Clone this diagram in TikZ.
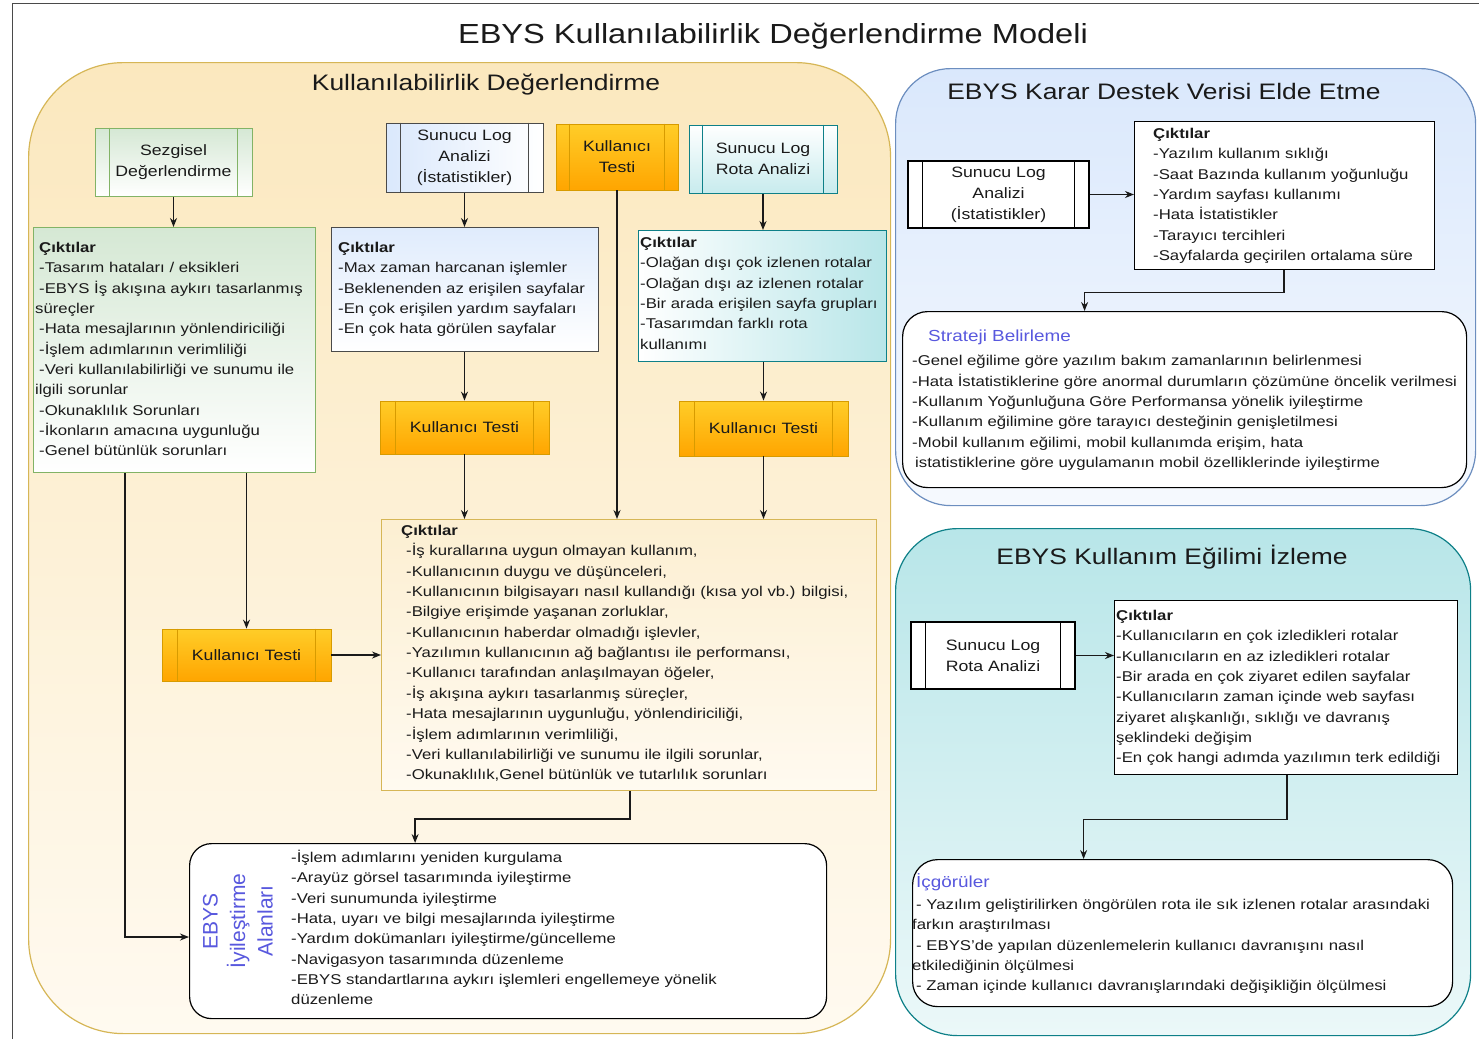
\documentclass[tikz,border=0pt]{standalone}
\usepackage{fontspec}
\setmainfont{Liberation Sans}[FakeStretch=1.18]
\newfontfamily\plainsans{Liberation Sans}
\usetikzlibrary{arrows.meta}

\definecolor{ink}{HTML}{1A1A1A}
\definecolor{violet}{RGB}{88,88,222}
\definecolor{ylwfill}{HTML}{FBE8BE}
\definecolor{ylwlight}{HTML}{FFFAF0}
\definecolor{ylwstroke}{HTML}{D6B656}
\definecolor{grnfill}{HTML}{D5E8D4}
\definecolor{grnstroke}{HTML}{82B366}
\definecolor{blufill}{HTML}{DAE8FC}
\definecolor{blustroke}{HTML}{6C8EBF}
\definecolor{darkstroke}{HTML}{4A4A4A}
\definecolor{tealfill}{HTML}{B0E3E6}
\definecolor{tealstroke}{HTML}{0E8088}
\definecolor{orgtop}{HTML}{FFCD28}
\definecolor{orgbot}{HTML}{FFA500}
\definecolor{orgstroke}{HTML}{D79B00}

% inner side bars of a "process" box
\newcommand{\procbars}[3]{%
  \draw[#3, line width=0.9pt] ([xshift=#2]#1.north west) -- ([xshift=#2]#1.south west);
  \draw[#3, line width=0.9pt] ([xshift=-#2]#1.north east) -- ([xshift=-#2]#1.south east);}
\newcommand{\ind}{\hspace*{4pt}}

\begin{document}
\begin{tikzpicture}[x=1pt,y=-1pt,
  every node/.style={text=ink, inner sep=0pt},
  bodytext/.style={font=\fontsize{14.2}{20.35}\selectfont, align=left, anchor=north west},
  boxlabel/.style={font=\fontsize{15}{21}\selectfont, align=center},
  heading/.style={font=\fontsize{16}{20}\selectfont, text=violet, anchor=north west},
  areatitle/.style={font=\fontsize{22.4}{26}\selectfont},
  greenbox/.style={draw=grnstroke, line width=1pt, top color=grnfill, bottom color=white},
  bluebox/.style={draw=darkstroke, line width=1pt, left color=blufill, right color=white},
  blueout/.style={draw=darkstroke, line width=1pt, top color=blufill!85, bottom color=white},
  tealbox/.style={draw=tealstroke, line width=1pt, top color=white, bottom color=tealfill!70},
  tealout/.style={draw=tealstroke, line width=1pt, left color=white, right color=tealfill!90},
  orangebox/.style={draw=orgstroke, line width=0.8pt, top color=orgtop, bottom color=orgbot},
  yellowout/.style={draw=ylwstroke, line width=1pt, top color=ylwfill!70, bottom color=ylwlight},
  plainbox/.style={draw=black, line width=1.2pt, fill=white},
  flow/.style={draw=ink, line width=1.3pt, -{Stealth[length=9pt,width=7pt]}}
]
\useasboundingbox (0,0) rectangle (1479,1039);

% outer frame
\draw[line width=1pt, darkstroke] (12,1039) -- (12,3) -- (1479,3);

\node[font=\fontsize{27.6}{32}\selectfont] (title) at (773,36) {EBYS Kullanılabilirlik Değerlendirme Modeli};

% ---------------- three areas ----------------
\node[draw=ylwstroke, line width=1.2pt, top color=ylwfill, bottom color=ylwlight,
      rounded corners=95pt, minimum width=862pt, minimum height=971pt, anchor=north west] (kdarea) at (28,62) {};
\node[areatitle] (kdtitle) at (486,85) {Kullanılabilirlik Değerlendirme};

\node[draw=blustroke, line width=1.2pt, top color=blufill, bottom color=blufill!25,
      rounded corners=55pt, minimum width=580pt, minimum height=437pt, anchor=north west] (kdvarea) at (895,68) {};
\node[areatitle] (kdvtitle) at (1164,91) {EBYS Karar Destek Verisi Elde Etme};

\node[draw=tealstroke, line width=1.2pt, top color=tealfill!90, bottom color=tealfill!25,
      rounded corners=62pt, minimum width=575pt, minimum height=507pt, anchor=north west] (kearea) at (895,528) {};
\node[areatitle] (ketitle) at (1172,557) {EBYS Kullanım Eğilimi İzleme};

% ---------------- method boxes ----------------
\node[greenbox, boxlabel, minimum width=157pt, minimum height=68pt] (sez) at (173.5,162) {Sezgisel\\Değerlendirme};
\procbars{sez}{15pt}{grnstroke}
\node[bluebox, boxlabel, minimum width=157pt, minimum height=69pt] (sla) at (464.5,157.5) {Sunucu Log\\Analizi\\(İstatistikler)};
\procbars{sla}{15pt}{darkstroke}
\node[orangebox, boxlabel, minimum width=122pt, minimum height=66pt] (kt1) at (617,157) {Kullanıcı\\Testi};
\procbars{kt1}{14pt}{orgstroke}
\node[tealbox, boxlabel, minimum width=148pt, minimum height=68pt] (slra) at (763,159) {Sunucu Log\\Rota Analizi};
\procbars{slra}{14pt}{tealstroke}

% ---------------- first outputs ----------------
\node[greenbox, minimum width=282pt, minimum height=245pt, anchor=north west] (gout) at (33,227) {};
\node[bodytext] (gout-t) at (35,242) {\ind\textbf{Çıktılar}\\
\ind-Tasarım hataları /  eksikleri\\
\ind-EBYS İş akışına aykırı tasarlanmış\\
süreçler\\
\ind-Hata mesajlarının yönlendiriciliği\\
\ind-İşlem adımlarının verimliliği\\
\ind-Veri kullanılabilirliği ve sunumu ile\\
ilgili sorunlar\\
\ind-Okunaklılık Sorunları\\
\ind-İkonların amacına uygunluğu\\
\ind-Genel bütünlük sorunları};

\node[blueout, minimum width=267pt, minimum height=124pt, anchor=north west] (bout) at (331,227) {};
\node[bodytext] (bout-t) at (338,242) {\textbf{Çıktılar}\\
-Max zaman harcanan işlemler\\
-Beklenenden az erişilen sayfalar\\
-En çok erişilen yardım sayfaları\\
-En çok hata görülen sayfalar};

\node[tealout, minimum width=248pt, minimum height=131pt, anchor=north west] (tout) at (638,230) {};
\node[bodytext] (tout-t) at (640,237) {\textbf{Çıktılar}\\
-Olağan dışı çok izlenen rotalar\\
-Olağan dışı az izlenen rotalar\\
-Bir arada erişilen sayfa grupları\\
-Tasarımdan farklı rota\\
kullanımı};

% ---------------- user tests ----------------
\node[orangebox, boxlabel, minimum width=169pt, minimum height=53pt] (kt2) at (464.5,427.5) {Kullanıcı Testi};
\procbars{kt2}{16pt}{orgstroke}
\node[orangebox, boxlabel, minimum width=169pt, minimum height=55pt] (kt3) at (763.5,428.5) {Kullanıcı Testi};
\procbars{kt3}{16pt}{orgstroke}
\node[orangebox, boxlabel, minimum width=169pt, minimum height=52pt] (kt4) at (246.5,655) {Kullanıcı Testi};
\procbars{kt4}{16pt}{orgstroke}

% ---------------- combined outputs ----------------
\node[yellowout, minimum width=495pt, minimum height=271pt, anchor=north west] (cout) at (381,519) {};
\node[bodytext] (cout-t) at (401,525) {\textbf{Çıktılar}\\
\hspace*{5pt}-İş kurallarına uygun olmayan kullanım,\\
\hspace*{5pt}-Kullanıcının duygu ve düşünceleri,\\
\hspace*{5pt}-Kullanıcının bilgisayarı nasıl kullandığı (kısa yol vb.) bilgisi,\\
\hspace*{5pt}-Bilgiye erişimde yaşanan zorluklar,\\
\hspace*{5pt}-Kullanıcının haberdar olmadığı işlevler,\\
\hspace*{5pt}-Yazılımın kullanıcının ağ bağlantısı ile performansı,\\
\hspace*{5pt}-Kullanıcı tarafından anlaşılmayan öğeler,\\
\hspace*{5pt}-İş akışına aykırı tasarlanmış süreçler,\\
\hspace*{5pt}-Hata mesajlarının uygunluğu, yönlendiriciliği,\\
\hspace*{5pt}-İşlem adımlarının verimliliği,\\
\hspace*{5pt}-Veri kullanılabilirliği ve sunumu ile ilgili sorunlar,\\
\hspace*{5pt}-Okunaklılık,Genel bütünlük ve tutarlılık sorunları};

% ---------------- improvement areas ----------------
\node[plainbox, rounded corners=22pt, minimum width=637pt, minimum height=175pt, anchor=north west] (iyi) at (189,843) {};
\node[rotate=90, align=center, text=violet, font=\plainsans\fontsize{21}{27.5}\selectfont] (iyi-h) at (238,921) {EBYS\\İyileştirme\\Alanları};
\node[bodytext] (iyi-t) at (291,850) {-İşlem adımlarını yeniden kurgulama\\
-Arayüz görsel tasarımında iyileştirme\\
-Veri sunumunda iyileştirme\\
-Hata, uyarı ve bilgi mesajlarında iyileştirme\\
-Yardım dokümanları iyileştirme/güncelleme\\
-Navigasyon tasarımında düzenleme\\
-EBYS standartlarına aykırı işlemleri engellemeye yönelik\\
düzenleme};

% ---------------- decision support data ----------------
\node[plainbox, boxlabel, minimum width=181pt, minimum height=67pt] (rsla) at (998.5,194.5) {Sunucu Log\\Analizi\\(İstatistikler)};
\procbars{rsla}{15pt}{black}
\node[plainbox, minimum width=300pt, minimum height=148pt, anchor=north west] (rout) at (1134,121) {};
\node[bodytext] (rout-t) at (1153,128) {\textbf{Çıktılar}\\
-Yazılım kullanım sıklığı\\
-Saat Bazında kullanım yoğunluğu\\
-Yardım sayfası kullanımı\\
-Hata İstatistikler\\
-Tarayıcı tercihleri\\
-Sayfalarda geçirilen ortalama süre};

\node[plainbox, rounded corners=25pt, minimum width=564pt, minimum height=176pt, anchor=north west] (strat) at (902,311) {};
\node[heading] (strat-h) at (928,330) {Strateji Belirleme};
\node[bodytext] (strat-t) at (912,355) {-Genel eğilime göre yazılım bakım zamanlarının belirlenmesi\\
-Hata İstatistiklerine göre anormal durumların çözümüne öncelik verilmesi\\
-Kullanım Yoğunluğuna Göre Performansa yönelik iyileştirme\\
-Kullanım eğilimine göre tarayıcı desteğinin genişletilmesi\\
-Mobil kullanım eğilimi, mobil kullanımda erişim, hata\\
\hspace*{3pt}istatistiklerine göre uygulamanın mobil özelliklerinde iyileştirme};

% ---------------- usage trend monitoring ----------------
\node[plainbox, boxlabel, minimum width=164pt, minimum height=67pt] (rslra) at (993,655.5) {Sunucu Log\\Rota Analizi};
\procbars{rslra}{15pt}{black}
\node[plainbox, minimum width=343pt, minimum height=174pt, anchor=north west] (rout2) at (1114,600) {};
\node[bodytext] (rout2-t) at (1116,610) {\textbf{Çıktılar}\\
-Kullanıcıların en çok izledikleri rotalar\\
-Kullanıcıların en az izledikleri rotalar\\
-Bir arada en çok ziyaret edilen sayfalar\\
-Kullanıcıların zaman içinde web sayfası\\
ziyaret alışkanlığı, sıklığı ve davranış\\
şeklindeki değişim\\
-En çok hangi adımda yazılımın terk edildiği};

\node[plainbox, rounded corners=25pt, minimum width=540pt, minimum height=147pt, anchor=north west] (icg) at (912,859) {};
\node[heading] (icg-h) at (916,873) {İçgörüler};
\node[bodytext] (icg-t) at (912,899) {\ind- Yazılım geliştirilirken öngörülen rota ile sık izlenen rotalar arasındaki\\
farkın araştırılması\\
\ind- EBYS'de yapılan düzenlemelerin kullanıcı davranışını nasıl\\
etkilediğinin ölçülmesi\\
\ind- Zaman içinde kullanıcı davranışlarındaki değişikliğin ölçülmesi};

% ---------------- connectors ----------------
\draw[flow] (sez.south) -- (sez.south |- gout.north);
\draw[flow] (sla.south) -- (sla.south |- bout.north);
\draw[flow] (slra.south) -- (slra.south |- tout.north);
\draw[flow] (bout.south -| kt2.north) -- (kt2.north);
\draw[flow] (tout.south -| kt3.north) -- (kt3.north);
\draw[flow] (kt2.south) -- (kt2.south |- cout.north);
\draw[flow] (kt3.south) -- (kt3.south |- cout.north);
\draw[flow] (kt1.south) -- (kt1.south |- cout.north);
\draw[flow] (gout.south -| kt4.north) -- (kt4.north);
\draw[flow] (kt4.east) -- (kt4.east -| cout.west);
\draw[flow] ([xshift=92pt]gout.south west) -- ([xshift=92pt]gout.south west |- 0,937) -- (iyi.west |- 0,937);
\draw[flow] ([xshift=249pt]cout.south west) -- ++(0,28) -| ([xshift=-93pt]iyi.north);
\draw[flow] (rsla.east) -- (rsla.east -| rout.west);
\draw[flow] ([xshift=150pt]rout.south west) -- ++(0,22) -| ([xshift=-100pt]strat.north);
\draw[flow] (rslra.east) -- (rslra.east -| rout2.west);
\draw[flow] ([xshift=173pt]rout2.south west) -- ++(0,44) -| ([xshift=-99pt]icg.north);
\end{tikzpicture}
\end{document}
